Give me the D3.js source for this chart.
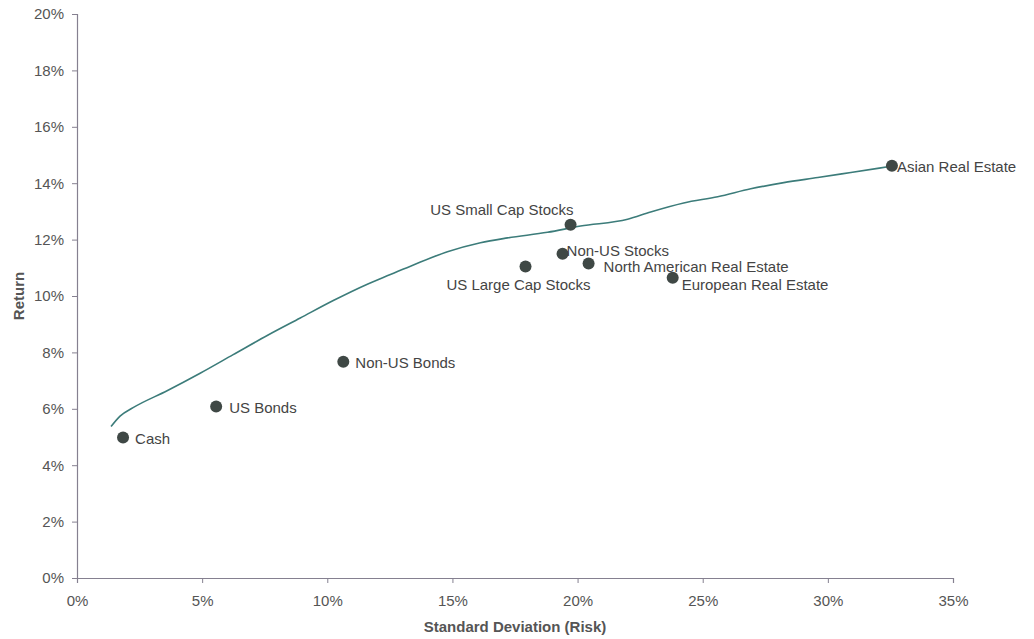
<!DOCTYPE html>
<html>
<head>
<meta charset="utf-8">
<script src="https://cdn.jsdelivr.net/npm/d3@7"></script>
<style>
  body { margin: 0; background: #fff; }
  text { font-family: Arial, "Liberation Sans", sans-serif; }
</style>
</head>
<body>
<svg id="chart" width="1034" height="639"></svg>
<script>
// asset classes: std dev (%) and return (%)
var assetNames = ["Cash", "US Bonds", "Non-US Bonds", "US Large Cap Stocks", "Non-US Stocks",
    "US Small Cap Stocks", "North American Real Estate", "European Real Estate", "Asian Real Estate"];
var assetRisk = [1.84, 5.56, 10.64, 17.92, 19.4, 19.72, 20.44, 23.8, 32.56];
var assetReturn = [4.98, 6.08, 7.67, 11.05, 11.5, 12.53, 11.15, 10.65, 14.62];

// efficient frontier
var frontierRisk = [1.36, 1.72, 2.24, 3.6, 4.92, 6.24, 7.6, 8.92, 10.24, 11.6, 12.52, 13.44, 14.8, 16.12,
    17.2, 18.8, 20.12, 22.0, 22.92, 24.24, 25.6, 26.92, 28.24, 29.6, 30.92, 32.52];
var frontierReturn = [5.37, 5.74, 6.04, 6.64, 7.26, 7.92, 8.6, 9.22, 9.84, 10.42, 10.76, 11.1, 11.57, 11.89,
    12.06, 12.26, 12.48, 12.72, 12.98, 13.3, 13.52, 13.8, 14.02, 14.2, 14.38, 14.6];

var xTicks = [0, 5, 10, 15, 20, 25, 30, 35];
var yTicks = [0, 2, 4, 6, 8, 10, 12, 14, 16, 18, 20];

// label placement per point: [dx, dy, anchor]
var labelPos = [
    [12, 6, "start"], [13, 6, "start"], [12, 6, "start"], [-7, 24, "middle"], [4, 2, "start"],
    [3, -10, "end"], [15, 8, "start"], [9, 12, "start"], [5, 6, "start"]
];

var svg = d3.select("#chart");
var plotLeft = 77, plotRight = 953, plotTop = 14, plotBottom = 578;

var x = d3.scaleLinear().domain([0, 35]).range([plotLeft, plotRight]);
var y = d3.scaleLinear().domain([0, 20]).range([plotBottom, plotTop]);

var axisColor = "#858090";
var textColor = "#555";

var xAxis = svg.append("g")
    .attr("transform", "translate(0," + plotBottom + ")")
    .call(d3.axisBottom(x).tickValues(xTicks).tickSize(5).tickPadding(10).tickFormat(function(d) { return d + "%"; }));
var yAxis = svg.append("g")
    .attr("transform", "translate(" + plotLeft + ",0)")
    .call(d3.axisLeft(y).tickValues(yTicks).tickSize(5).tickPadding(8).tickFormat(function(d) { return d + "%"; }));

[xAxis, yAxis].forEach(function(a) {
    a.select(".domain").attr("stroke", axisColor).attr("stroke-width", 1.2);
    a.selectAll(".tick line").attr("stroke", axisColor);
    a.selectAll(".tick text").attr("fill", textColor).attr("font-size", 15)
        .style("font-family", "Arial, 'Liberation Sans', sans-serif");
});
xAxis.selectAll(".tick text").attr("dy", "0.85em");

// frontier line
var pts = frontierRisk.map(function(r, i) { return [r, frontierReturn[i]]; });
var line = d3.line()
    .x(function(d) { return x(d[0]); })
    .y(function(d) { return y(d[1]); })
    .curve(d3.curveMonotoneX);

svg.append("path")
    .datum(pts)
    .attr("d", line)
    .attr("fill", "none")
    .attr("stroke", "#3c7c7a")
    .attr("stroke-width", 1.6);

// points
var assets = assetNames.map(function(n, i) {
    return { name: n, risk: assetRisk[i], ret: assetReturn[i], pos: labelPos[i] };
});

svg.selectAll("circle.asset")
    .data(assets)
    .enter().append("circle")
    .attr("class", "asset")
    .attr("cx", function(d) { return x(d.risk); })
    .attr("cy", function(d) { return y(d.ret); })
    .attr("r", 6)
    .attr("fill", "#3f4845");

svg.selectAll("text.lbl")
    .data(assets)
    .enter().append("text")
    .attr("class", "lbl")
    .attr("x", function(d) { return x(d.risk) + d.pos[0]; })
    .attr("y", function(d) { return y(d.ret) + d.pos[1]; })
    .attr("text-anchor", function(d) { return d.pos[2]; })
    .attr("font-size", 15)
    .attr("fill", "#444")
    .text(function(d) { return d.name; });

// axis titles
svg.append("text")
    .attr("x", (plotLeft + plotRight) / 2)
    .attr("y", 632)
    .attr("text-anchor", "middle")
    .attr("font-size", 15)
    .attr("font-weight", "bold")
    .attr("fill", textColor)
    .text("Standard Deviation (Risk)");

svg.append("text")
    .attr("transform", "translate(24," + ((plotTop + plotBottom) / 2) + ") rotate(-90)")
    .attr("text-anchor", "middle")
    .attr("font-size", 15)
    .attr("font-weight", "bold")
    .attr("fill", textColor)
    .text("Return");
</script>
</body>
</html>
